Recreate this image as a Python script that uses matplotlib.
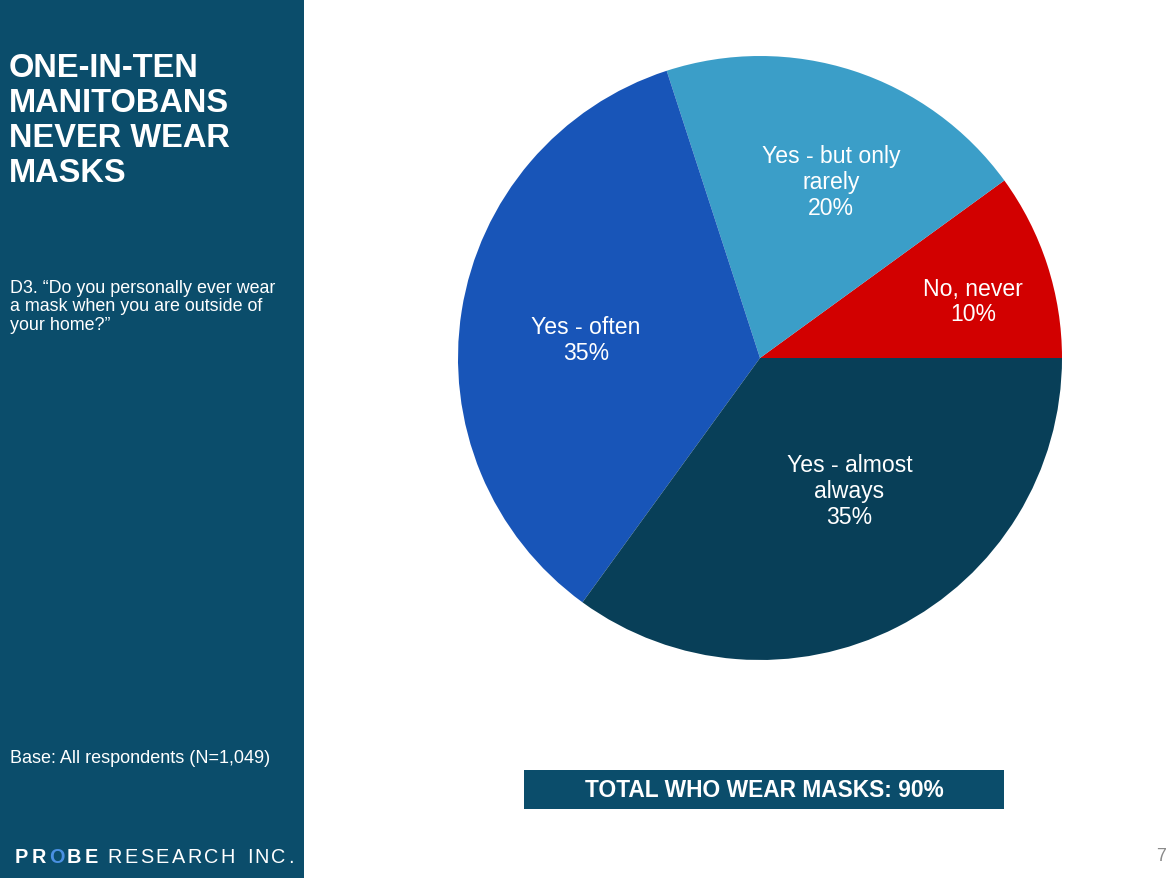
import numpy as np
import matplotlib
matplotlib.use("Agg")
import matplotlib.pyplot as plt
from matplotlib.patches import Rectangle

plt.rcParams['font.family'] = ['Liberation Sans', 'DejaVu Sans']

# ---- data ----
categories = ["No, never", "Yes - but only\nrarely", "Yes - often", "Yes - almost\nalways"]
values = [10, 20, 35, 35]
colors = ["#D20000", "#3B9EC8", "#1855B8", "#083F58"]
title_lines = "ONE-IN-TEN\nMANITOBANS\nNEVER WEAR\nMASKS"
question = "D3. \u201cDo you personally ever wear\na mask when you are outside of\nyour home?\u201d"
base_text = "Base: All respondents (N=1,049)"
total_text = "TOTAL WHO WEAR MASKS: 90%"
page_no = "7"

# label placement style (radius fraction, angle offset in degrees)
label_r = [0.73, 0.63, 0.58, 0.53]
label_dang = [-3, -4, 3, 7]

W, H = 1174, 879
PANEL = "#0B4D6B"
fig = plt.figure(figsize=(W / 100, H / 100), dpi=100)
fig.patch.set_facecolor("white")

# background axes in pixel coords
bg = fig.add_axes([0, 0, 1, 1])
bg.set_xlim(0, W)
bg.set_ylim(H, 0)
bg.axis("off")
bg.add_patch(Rectangle((0, 0), 304, H, color=PANEL, lw=0))
bg.add_patch(Rectangle((524, 771), 480, 39, color=PANEL, lw=0))

bg.text(9, 53, title_lines, color="white", fontsize=23.5, fontweight="bold",
        va="top", ha="left", linespacing=1.16)
bg.text(10, 280, question, color="white", fontsize=12.9, va="top", ha="left",
        linespacing=1.1)
bg.text(10, 759, base_text, color="white", fontsize=13, va="center", ha="left")
bg.text(764, 791, total_text, color="white", fontsize=16.4, fontweight="bold",
        va="center", ha="center")
bg.text(1161, 857, page_no, color="#8A8A8A", fontsize=13, va="center", ha="center")

# logo with letter spacing
fig.canvas.draw()
renderer = fig.canvas.get_renderer()
def spaced(x, y, s, tracking, **kw):
    for ch in s:
        t = bg.text(x, y, ch, va="center", ha="left", **kw)
        if ch == " ":
            x += 7 + tracking
            t.remove()
            continue
        bb = t.get_window_extent(renderer)
        x += bb.width + tracking
    return x

x = 15
x = spaced(x, 858, "PR", 3.0, color="white", fontsize=14.3, fontweight="bold")
x = spaced(x, 858, "O", 3.0, color="#4A90E2", fontsize=14.3, fontweight="bold")
x = spaced(x, 858, "BE", 3.0, color="white", fontsize=14.3, fontweight="bold")
x += 7
spaced(x, 858, "RESEARCH INC.", 2.4, color="white", fontsize=14.3)

# pie axes
cx, cy, R = 760, 359, 302
ax = fig.add_axes([(cx - R) / W, (H - cy - R) / H, 2 * R / W, 2 * R / H])
wedges, _ = ax.pie(values, colors=colors, startangle=0, counterclock=True,
                   radius=1, wedgeprops=dict(linewidth=0))
ax.set_xlim(-1, 1)
ax.set_ylim(-1, 1)
ax.set_aspect("equal")
ax.axis("off")

for w, cat, v, rf, da in zip(wedges, categories, values, label_r, label_dang):
    ang = np.deg2rad((w.theta1 + w.theta2) / 2 + da)
    ax.text(rf * np.cos(ang), rf * np.sin(ang), f"{cat}\n{v}%", color="white",
            fontsize=16.6, ha="center", va="center", linespacing=1.15)

fig.savefig("out.png", dpi=100, facecolor="white")
